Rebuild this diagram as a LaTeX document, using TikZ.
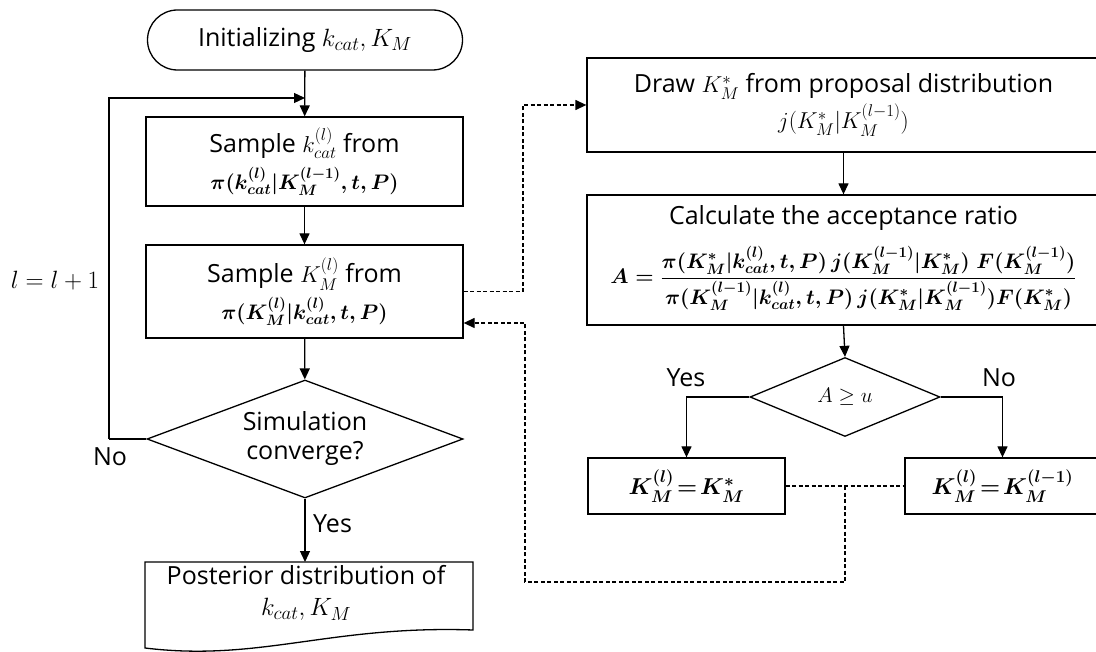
\RequirePackage{fix-cm}
\documentclass[tikz,border=0pt]{standalone}
\usepackage[no-math]{fontspec}
\setmainfont{Open Sans}
\usepackage{amsmath,bm}
% text at 25pt; inline math at three slightly different scales
\DeclareMathSizes{25}{21}{15}{11}
\DeclareMathSizes{26}{23}{17}{12}
\DeclareMathSizes{27}{25}{19}{14}
\newcommand\mm[1]{{\fontsize{26}{37}\selectfont$#1$}}
\newcommand\lm[1]{{\fontsize{27}{37}\selectfont$#1$}}
\usetikzlibrary{arrows.meta,shapes.geometric}

\begin{document}
\begin{tikzpicture}[x=1pt,y=-1pt,
  every node/.style={font=\fontsize{25}{37}\selectfont\mathversion{normal}},
  box/.style={draw,line width=1.3pt,inner sep=0pt,align=center},
  term/.style={box,rounded corners=30pt,minimum width=315pt,minimum height=60pt},
  decision/.style={box,diamond,aspect=2.7},
  flow/.style={line width=1.3pt,-{Triangle[length=11pt,width=10pt]}},
  link/.style={line width=1.3pt,dash pattern=on 4pt off 2.5pt},
  linkarrow/.style={link,-{Triangle[length=11pt,width=10pt]}},
  tag/.style={inner sep=0pt}
]
\clip (0,0) rectangle (1096,652);
\fill[white] (0,0) rectangle (1096,652);

% ---- main loop (left column) ----
\node[term] (init) at (305,40) {Initializing \lm{k_{cat},K_M}};

\node[box,minimum width=317pt,minimum height=89pt] (s1) at (304.5,161.5)
  {Sample \mm{k_{cat}^{(l)}} from\\
   {\boldmath$\pi(k_{cat}^{(l)}|K_M^{(l-1)},\bm{t},\bm{P})$}};

\node[box,minimum width=317pt,minimum height=93pt] (s2) at (304.5,291.5)
  {Sample \mm{K_M^{(l)}} from\\
   {\boldmath$\pi(K_M^{(l)}|k_{cat}^{(l)},\bm{t},\bm{P})$}};

\node[decision,minimum width=316pt,minimum height=118pt,align=center] (conv) at (305,439)
  {Simulation\\[-8pt]converge?};

% document-shaped output box
\coordinate (ptl) at (145,562);
\coordinate (ptr) at (473,562);
\coordinate (pbr) at (473,630);
\coordinate (pbl) at (145,648);
\draw[line width=1.3pt] (ptl) -- (ptr) -- (pbr)
  .. controls (330,625) and (260,662) .. (pbl) -- cycle;
\node[align=center] (post) at (306,593)
  {Posterior distribution of\\[-6pt]\lm{k_{cat},K_M}};

\coordinate (postin) at (305,562);
\coordinate (merge) at (305,98);
\coordinate (lp) at (109,439);

\draw[flow] (init) -- (s1);
\draw[flow] (s1) -- (s2);
\draw[flow] (s2) -- (conv);
\draw[flow] (conv.south) -- (postin);
\draw[line width=1.3pt] (conv.west) -- (lp);
\draw[flow] (lp) |- (merge);

\node[tag,anchor=west] (yesl) at (313,524) {Yes};
\node[tag] (nol) at (110,457) {No};
\node[tag] (incr) at (55,281) {\lm{l=l+1}};

% ---- Metropolis-Hastings step (right column) ----
\node[box,minimum width=513pt,minimum height=94pt] (prop) at (843.5,105)
  {Draw \mm{K_M^{*}} from proposal distribution\\[-1pt]
   \mm{j(K_M^{*}|K_M^{(l-1)})}};

\node[box,minimum width=513pt,minimum height=130pt] (ratio) at (843.5,260) {};
\node (ratiotitle) at (843.5,218) {Calculate the acceptance ratio};
\node (ratioeq) at (843.5,278)
  {{\boldmath$\displaystyle A=\frac{\pi(K_M^{*}|k_{cat}^{(l)},\bm{t},\bm{P})\,j(K_M^{(l-1)}|K_M^{*})\;\bm{F}(K_M^{(l-1)})}
   {\pi(K_M^{(l-1)}|k_{cat}^{(l)},\bm{t},\bm{P})\,j(K_M^{*}|K_M^{(l-1)})\bm{F}(K_M^{*})}$}};

\node[decision,minimum width=190pt,minimum height=79pt] (acc) at (845,397) {$A\geq u$};

\node[box,minimum width=197pt,minimum height=56pt] (keep) at (686.5,486)
  {{\boldmath\mm{K_M^{(l)}\!=\!K_M^{*}}}};
\node[box,minimum width=195pt,minimum height=56pt] (rej) at (1002.5,486)
  {{\boldmath\mm{K_M^{(l)}\!=\!K_M^{(l-1)}}}};

\draw[flow] (prop) -- (ratio);
\draw[flow] (ratio.south) -- (acc.north);
\draw[flow] (acc.west) -| (keep.north);
\draw[flow] (acc.east) -| (rej.north);

\node[tag] (yesr) at (686,378) {Yes};
\node[tag] (nor) at (999,378) {No};

% ---- dashed hand-off between the two columns ----
\coordinate (jn) at (845,486);
\coordinate (down) at (845,582);
\coordinate (back) at (525,582);
\coordinate (out) at (523,291.5);
\draw[link] (keep.east) -- (rej.west);
\draw[linkarrow] (jn) -- (down) -- (back) |- ([yshift=-31.5pt]s2.east);
\draw[linkarrow] (s2.east) -- (out) |- (prop.west);

\end{tikzpicture}
\end{document}
